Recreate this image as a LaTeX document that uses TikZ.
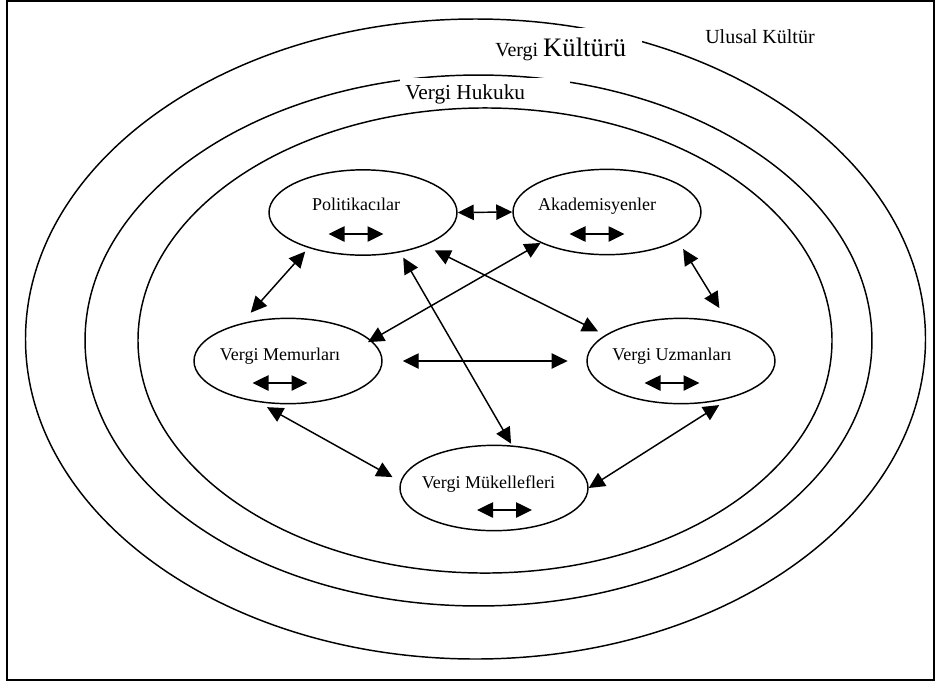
\documentclass[tikz,border=0pt]{standalone}
\usepackage{fontspec}
\setmainfont{Liberation Serif}
\usetikzlibrary{shapes.geometric,arrows.meta,calc}

\begin{document}
\begin{tikzpicture}[x=0.75pt,y=-0.75pt,
    group/.style={draw,ellipse,line width=1.1pt,minimum width=141pt,minimum height=64pt},
    actor/.style={font=\fontsize{13.5}{16}\selectfont,inner sep=0pt,anchor=base},
    label/.style={inner sep=0pt,anchor=base west},
    twoway/.style={line width=1.1pt,{Triangle[length=12pt,width=11.5pt]}-{Triangle[length=12pt,width=11.5pt]}}]
    \useasboundingbox (0,0) rectangle (936,683);
    \draw[line width=1.1pt] (7,1) rectangle (934,680);

    \draw[line width=1.1pt] (475.5,339) ellipse [x radius=337.5pt,y radius=240pt];
    \draw[line width=1.1pt] (478.5,340.5) ellipse [x radius=295.1pt,y radius=199.1pt];
    \draw[line width=1.1pt] (485,340.5) ellipse [x radius=260.25pt,y radius=174.4pt];

    \fill[white] (490,28) rectangle (642,62);
    \fill[white] (400,78) rectangle (570,106);
    \node[label] (kultur) at (495,56) {\fontsize{15}{18}\selectfont Vergi \fontsize{20}{24}\selectfont Kültürü};
    \node[label] (hukuk) at (405,99) {\fontsize{16}{19}\selectfont Vergi Hukuku};
    \node[label] (ulusal) at (705,43) {\fontsize{15}{18}\selectfont Ulusal Kültür};

    \node[group] (pol) at (363,212.5) {};
    \node[group] (aka) at (607,212) {};
    \node[group] (mem) at (288,361) {};
    \node[group] (uzm) at (681,361) {};
    \node[group] (muk) at (494,488) {};

    \node[actor] (polt) at (356,210) {Politikacılar};
    \node[actor] (akat) at (597,210) {Akademisyenler};
    \node[actor] (memt) at (280,360) {Vergi Memurları};
    \node[actor] (uzmt) at (672,360) {Vergi Uzmanları};
    \node[actor] (mukt) at (488.5,488) {Vergi Mükellefleri};

    \foreach \t/\dx/\dy in {polt/0/24,akat/0/24,memt/0/23,uzmt/0/23,mukt/16/22}
        \draw[twoway] ($(\t.base)+(\dx-27.5,\dy)$) -- ++(55,0);

    \draw[twoway] (pol.0) -- (aka.180);
    \draw[twoway,shorten <=3.6pt,shorten >=10.6pt] (pol.213) -- (mem.141.1);
    \draw[twoway,shorten <=4.5pt,shorten >=1.5pt] (pol.-47.5) -- (muk.67.7);
    \draw[twoway,shorten <=8.2pt,shorten >=6pt] (pol.-28.45) -- (uzm.161.45);
    \draw[twoway,shorten >=-2.8pt] (aka.205.9) -- (mem.14.2);
    \draw[twoway,shorten <=7.3pt,shorten >=13.7pt] (aka.-22.3) -- (uzm.38.8);
    \draw[twoway,shorten <=15pt,shorten >=14pt] (mem.0) -- (uzm.180);
    \draw[twoway,shorten <=7.65pt,shorten >=6.75pt] (mem.234.8) -- (muk.176.6);
    \draw[twoway,shorten <=9.75pt] (uzm.-37.65) -- (muk.0);
\end{tikzpicture}
\end{document}
